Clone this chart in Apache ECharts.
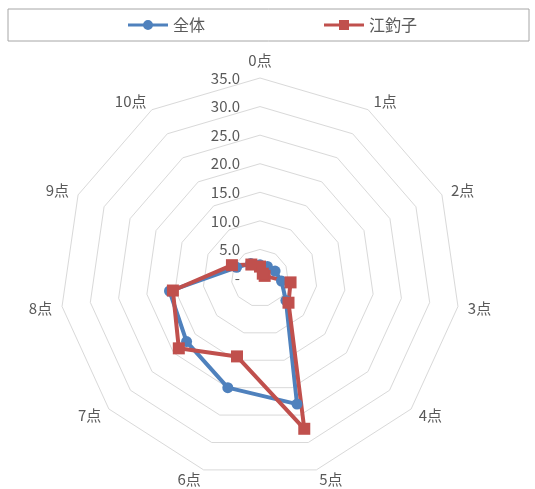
<!DOCTYPE html>
<html>
<head>
<meta charset="utf-8">
<script src="https://cdn.jsdelivr.net/npm/echarts@6/dist/echarts.min.js"></script>
<style>
html,body{margin:0;padding:0;background:#fff;}
#c{width:535px;height:489px;}
</style>
</head>
<body>
<div id="c"></div>
<script>
const categories = ['0点','1点','2点','3点','4点','5点','6点','7点','8点','9点','10点'];
const seriesNames = ['全体','江釣子'];
const zentai = [2.3, 2.4, 2.9, 3.8, 6.0, 23.0, 20.0, 17.0, 16.0, 4.5, 3.0];
const etsuriko = [2.0, 0.9, 0.9, 5.4, 6.6, 27.5, 14.3, 18.8, 15.4, 5.4, 2.8];
const axisMax = 35;
const axisSplit = 7;

const FONT = '"Noto Sans CJK JP", "Noto Sans", sans-serif';
const TXT = '#595959';

// ECharts lays radar axes out counter-clockwise; reorder so categories run clockwise from the top.
const order = categories.map((_, i) => i === 0 ? 0 : categories.length - i);
const pick = arr => order.map(i => arr[i]);

const chart = echarts.init(document.getElementById('c'), null, {renderer:'canvas'});
const indicator = order.map((ci, k) => {
  const o = {name: categories[ci], min: 0, max: axisMax};
  if (k === 0) o.axisLabel = {show: true};
  return o;
});
chart.setOption({
  animation: false,
  backgroundColor: '#fff',
  legend: {
    left: 8, top: 9,
    padding: [8, 112, 8, 120],
    borderColor: '#A6A6A6', borderWidth: 1,
    itemWidth: 40, itemHeight: 10, itemGap: 119,
    textStyle: {fontFamily: FONT, fontSize: 16, color: TXT},
    data: [
      {name: seriesNames[0], icon: 'path://M0,3.5H40V6.5H0Z M25,5A5,5,0,1,1,15,5A5,5,0,1,1,25,5Z'},
      {name: seriesNames[1], icon: 'path://M0,3.5H40V6.5H0Z M15,0H25V10H15Z'}
    ]
  },
  radar: {
    center: [260, 278],
    radius: 200,
    startAngle: 90,
    splitNumber: axisSplit,
    shape: 'polygon',
    indicator: indicator,
    nameGap: 10,
    axisName: {color: TXT, fontFamily: FONT, fontSize: 15},
    axisLine: {show: false},
    axisTick: {show: false},
    axisLabel: {show: false, color: TXT, fontFamily: FONT, fontSize: 15, margin: 20,
      formatter: v => v === 0 ? '-' : Number(v).toFixed(1)},
    splitLine: {lineStyle: {color: '#D9D9D9', width: 1}},
    splitArea: {show: false}
  },
  series: [{
    type: 'radar',
    data: [
      {name: seriesNames[0], value: pick(zentai),
        symbol: 'circle', symbolSize: 11,
        lineStyle: {color: '#4F81BD', width: 4},
        itemStyle: {color: '#4F81BD'}},
      {name: seriesNames[1], value: pick(etsuriko),
        symbol: 'rect', symbolSize: 12,
        lineStyle: {color: '#C0504D', width: 4},
        itemStyle: {color: '#C0504D'}}
    ]
  }]
});
</script>
</body>
</html>
